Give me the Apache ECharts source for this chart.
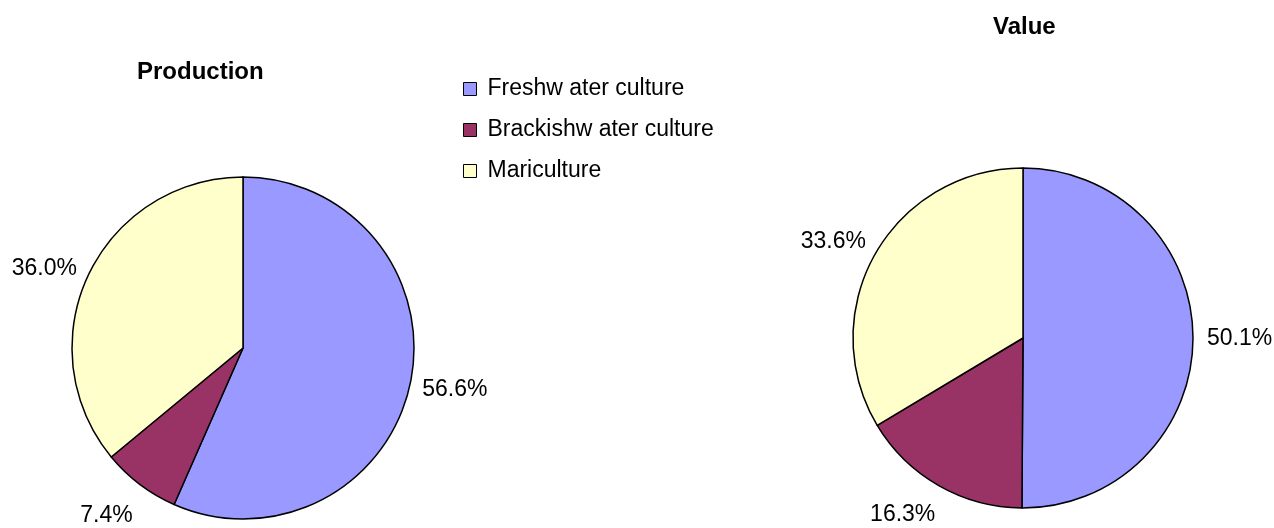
<!DOCTYPE html>
<html>
	<head>
		<meta charset="utf-8">
		<title>Production / Value</title>
		<script src="https://cdn.jsdelivr.net/npm/echarts@6/dist/echarts.min.js"></script>
		<style>
			html, body { margin: 0; padding: 0; background: #fff; }
			#mainCharts { width: 1274px; height: 528px; }
		</style>
	</head>
	<body>
		<div id="mainCharts"></div>
		<script type="text/javascript">
		// data
		var categories = ['Freshw ater culture', 'Brackishw ater culture', 'Mariculture'];
		var productionShare = [56.6, 7.4, 36.0];
		var valueShare = [50.1, 16.3, 33.6];
		var colors = ['#9999FF', '#993366', '#FFFFCC'];

		// small nudges for the percent labels (Excel puts them a bit differently)
		var labelShift = [
			[[0, 5], [2, 26], [0, -4]],
			[[2, 0], [5, 23], [2, -9]]
		];

		var myChart = echarts.init(document.getElementById('mainCharts'));

		function makeData(vals) {
			return categories.map(function (name, i) {
				return { name: name, value: vals[i], itemStyle: { color: colors[i] } };
			});
		}

		function pieSeries(name, vals, center, radius) {
			return {
				name: name,
				type: 'pie',
				center: center,
				radius: radius,
				startAngle: 90,
				clockwise: true,
				avoidLabelOverlap: false,
				silent: true,
				itemStyle: { borderColor: '#000', borderWidth: 1.5 },
				label: {
					show: true,
					position: 'outside',
					color: '#000',
					fontFamily: 'Liberation Sans, Arial, sans-serif',
					fontSize: 23,
					formatter: function (p) { return p.value.toFixed(1) + '%'; }
				},
				labelLine: { show: false, length: 7, length2: 0 },
				labelLayout: function (p) {
					var s = labelShift[p.seriesIndex][p.dataIndex];
					return { dx: s[0], dy: s[1] };
				},
				emphasis: { disabled: true },
				data: makeData(vals)
			};
		}

		var titleFont = { fontFamily: 'Liberation Sans, Arial, sans-serif', fontSize: 24, fontWeight: 'bold', color: '#000' };

		var option = {
			animation: false,
			backgroundColor: '#fff',
			title: [
				{ text: 'Production', left: 137, top: 60, padding: 0, textStyle: titleFont },
				{ text: 'Value', left: 993, top: 15, padding: 0, textStyle: titleFont }
			],
			legend: {
				orient: 'vertical',
				left: 463, top: 77,
				padding: 0,
				itemWidth: 13, itemHeight: 13,
				itemGap: 17,
				icon: 'rect',
				selectedMode: false,
				itemStyle: { borderColor: '#000', borderWidth: 1 },
				textStyle: {
					fontFamily: 'Liberation Sans, Arial, sans-serif',
					fontSize: 23, lineHeight: 24, color: '#000',
					padding: [0, 0, 0, 6]
				},
				data: categories
			},
			series: [
				pieSeries('Production', productionShare, [243, 348], 171),
				pieSeries('Value', valueShare, [1023, 338], 170)
			]
		};

		myChart.setOption(option);
		</script>
	</body>
</html>
